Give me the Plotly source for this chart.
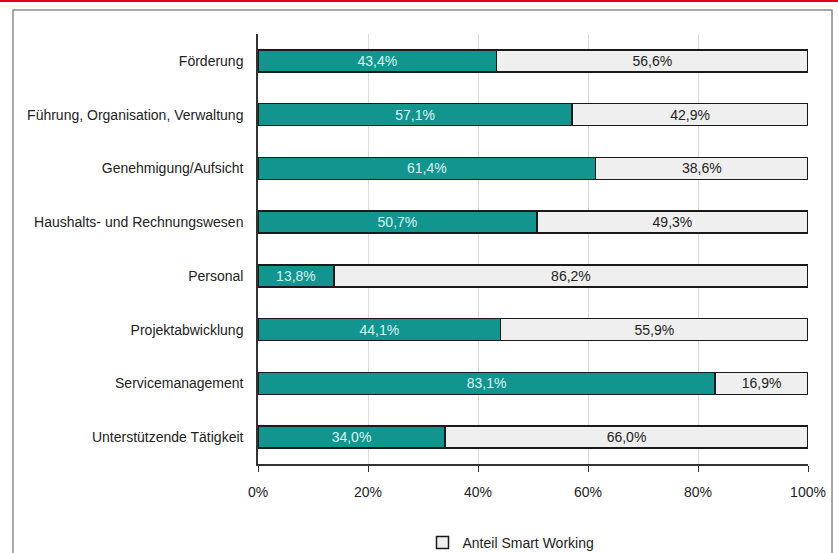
import plotly.graph_objects as go

categories = ["Förderung", "Führung, Organisation, Verwaltung", "Genehmigung/Aufsicht",
              "Haushalts- und Rechnungswesen", "Personal", "Projektabwicklung",
              "Servicemanagement", "Unterstützende Tätigkeit"]
smart_working = [43.4, 57.1, 61.4, 50.7, 13.8, 44.1, 83.1, 34.0]
rest = [56.6, 42.9, 38.6, 49.3, 86.2, 55.9, 16.9, 66.0]
tick_vals = [0, 20, 40, 60, 80, 100]
tick_text = ["0%", "20%", "40%", "60%", "80%", "100%"]

FONT = "Liberation Sans, Arial, sans-serif"

def fmt(v):
    return f"{v:.1f}%".replace(".", ",")

fig = go.Figure()
fig.add_trace(go.Bar(
    y=categories, x=smart_working, orientation="h",
    marker=dict(color="#12958f", line=dict(color="#1a1a1a", width=1.5)),
    text=[fmt(v) for v in smart_working], textposition="inside",
    insidetextanchor="middle", textfont=dict(color="#d8f4f2", size=14, family=FONT),
    showlegend=False, hoverinfo="skip", width=0.41,
))
fig.add_trace(go.Bar(
    y=categories, x=rest, orientation="h", name="Anteil Smart Working",
    marker=dict(color="#efefef", line=dict(color="#1a1a1a", width=1.5)),
    text=[fmt(v) for v in rest], textposition="inside",
    insidetextanchor="middle", textfont=dict(color="#222222", size=14, family=FONT),
    showlegend=True, hoverinfo="skip", width=0.41,
))

W, H = 838, 553
L, R, T, B = 258, 30, 34, 89
pw, ph = W - L - R, H - T - B

def px_x(x):
    return (x - L) / pw

def px_y(y):
    return (H - B - y) / ph

shapes = [
    dict(type="rect", xref="paper", yref="paper",
         x0=px_x(13), x1=px_x(832), y0=px_y(10), y1=px_y(560),
         line=dict(color="#8a8a8a", width=1.5), fillcolor="rgba(0,0,0,0)", layer="below"),
    dict(type="line", xref="paper", yref="paper",
         x0=px_x(0), x1=px_x(838), y0=px_y(1), y1=px_y(1),
         line=dict(color="#e2001a", width=2)),
]

fig.update_layout(
    width=W, height=H, barmode="stack",
    margin=dict(l=L, r=R, t=T, b=B),
    paper_bgcolor="white", plot_bgcolor="white",
    font=dict(family=FONT, size=14, color="#222222"),
    xaxis=dict(range=[0, 100], tickvals=tick_vals, ticktext=tick_text,
               showgrid=True, gridcolor="#dcdcdc", gridwidth=1,
               showline=True, linecolor="#333333", linewidth=1.5,
               ticks="outside", ticklen=6, tickcolor="#333333", ticklabelstandoff=8,
               tickfont=dict(size=14, family=FONT), zeroline=False, automargin=False),
    yaxis=dict(autorange="reversed", showline=True, linecolor="#333333", linewidth=1.5,
               ticks="", ticklabelstandoff=10, tickfont=dict(size=14, family=FONT),
               automargin=False),
    legend=dict(orientation="h", x=0.46, xanchor="center",
                yref="container", y=1 - 543 / H, yanchor="middle",
                font=dict(size=14, family=FONT)),
    shapes=shapes,
    uniformtext=dict(mode="show", minsize=10),
)

fig.write_html("out.html", config={"displayModeBar": False},
               post_script="document.body.style.margin='0';")
